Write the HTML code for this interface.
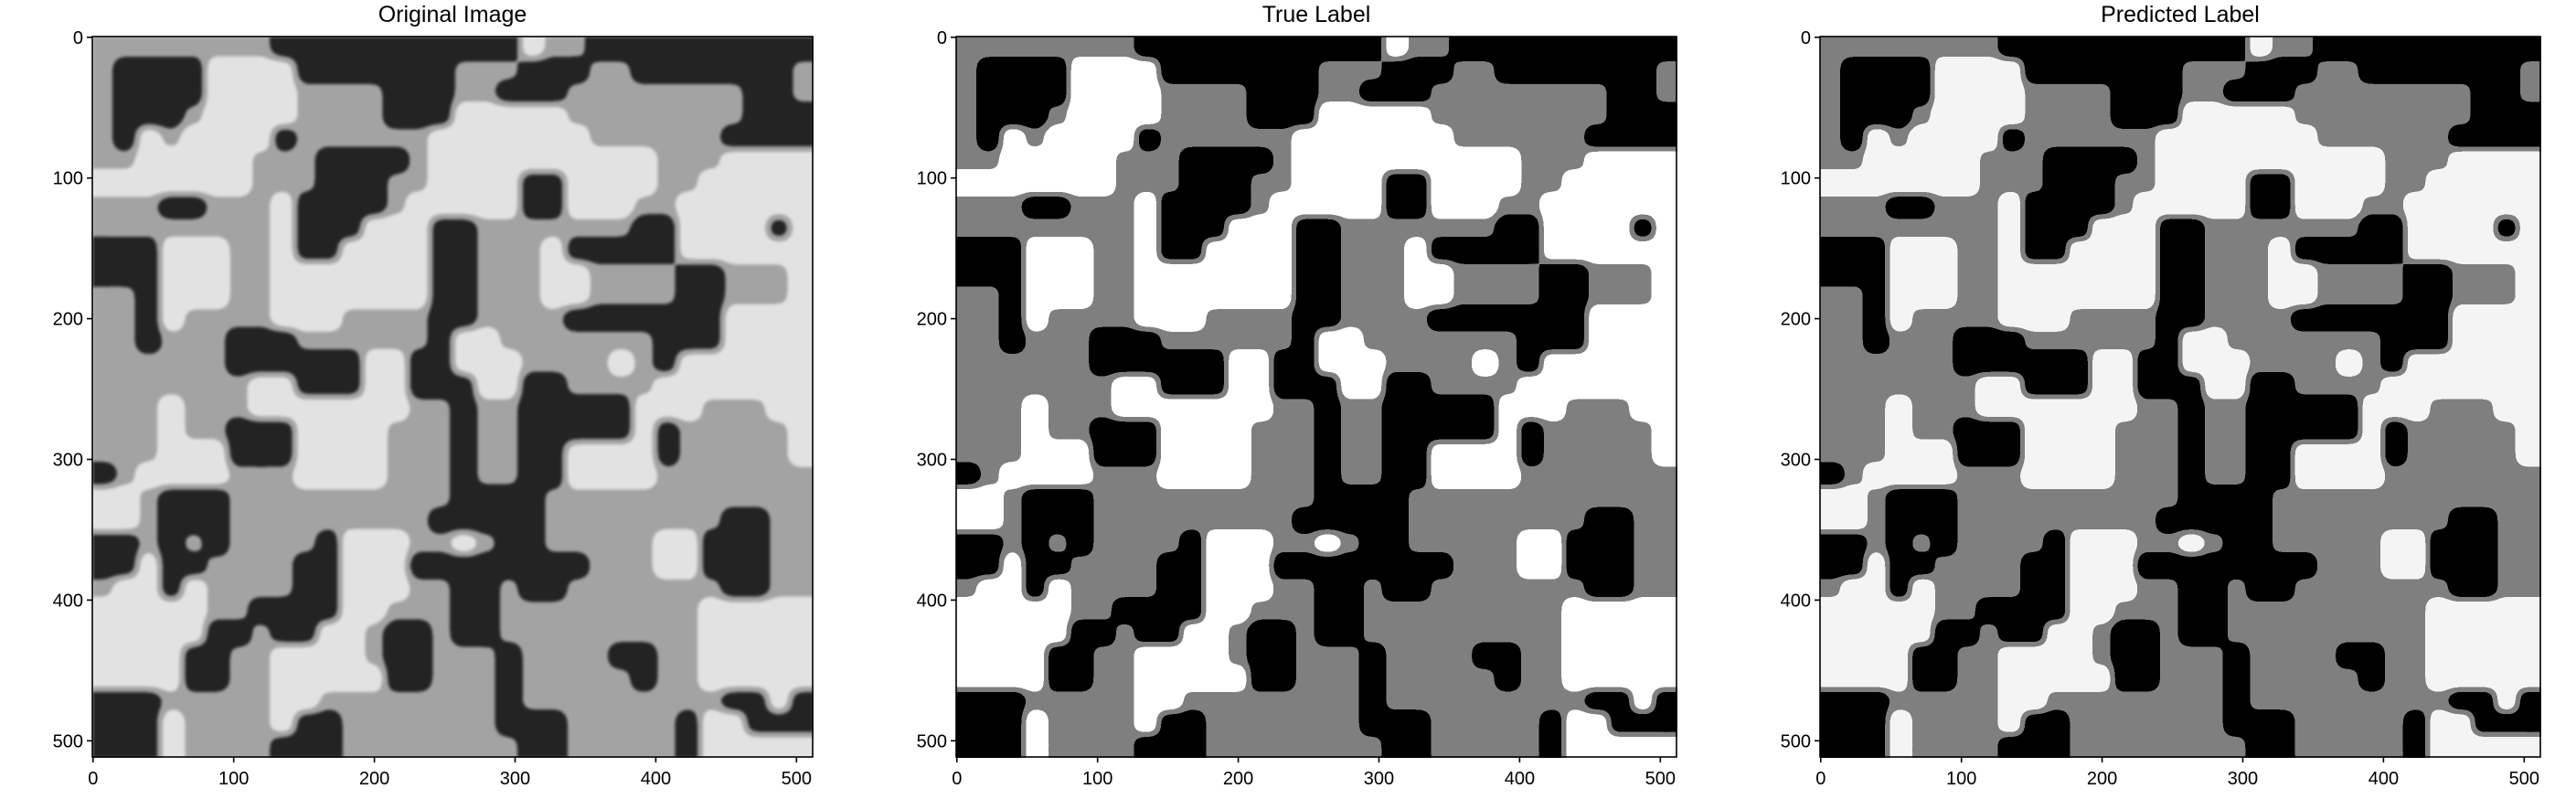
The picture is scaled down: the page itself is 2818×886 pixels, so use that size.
<!DOCTYPE html>
<html><head><meta charset="utf-8"><style>
html,body{margin:0;padding:0;background:#fff;}
svg{display:block;font-family:"Liberation Sans","DejaVu Sans",sans-serif;}
</style></head><body>
<svg id="fig" width="2818" height="886" viewBox="0 0 2818 886" xmlns="http://www.w3.org/2000/svg">
<defs>
<filter id="f0" x="0" y="0" width="1" height="1" color-interpolation-filters="sRGB">
<feGaussianBlur stdDeviation="7"/>
<feComponentTransfer>
<feFuncR type="discrete" tableValues="0.14 0.64 0.89"/>
<feFuncG type="discrete" tableValues="0.14 0.64 0.89"/>
<feFuncB type="discrete" tableValues="0.14 0.64 0.89"/>
<feFuncA type="discrete" tableValues="1"/>
</feComponentTransfer>
<feGaussianBlur stdDeviation="1.5"/>
</filter>
<filter id="f1" x="0" y="0" width="1" height="1" color-interpolation-filters="sRGB">
<feGaussianBlur stdDeviation="6"/>
<feComponentTransfer>
<feFuncR type="discrete" tableValues="0 0.5 1"/>
<feFuncG type="discrete" tableValues="0 0.5 1"/>
<feFuncB type="discrete" tableValues="0 0.5 1"/>
<feFuncA type="discrete" tableValues="1"/>
</feComponentTransfer>
</filter>
<filter id="f2" x="0" y="0" width="1" height="1" color-interpolation-filters="sRGB">
<feGaussianBlur stdDeviation="6"/>
<feComponentTransfer>
<feFuncR type="discrete" tableValues="0 0.5 0.96"/>
<feFuncG type="discrete" tableValues="0 0.5 0.96"/>
<feFuncB type="discrete" tableValues="0 0.5 0.96"/>
<feFuncA type="discrete" tableValues="1"/>
</feComponentTransfer>
</filter>
</defs>
</svg>
<script>
// Segmentation label grid (32x32 cells, 16 px each over a 512x512 image): 0 = black phase, 1 = gray phase, 2 = white phase
const labelRows = [
"11111111000000000002110000000000",
"10000222200000001110001100000001",
"10000222211110001100011111111001",
"10001222211110002222211111111000",
"10212222011111122222221111110000",
"11222221110000122222222221112222",
"22222221110001122220022221122222",
"11100111200001222220022211222222",
"11111111200022200111111100222202",
"00022211200222200111200000222222",
"00022211222222200111221111001112",
"11022211222222200111221111001112",
"11021111222111100111100000002222",
"11011100011111102211111110002222",
"11111100000022002221111210222222",
"11111112200022000220011112222222",
"11121112222222110110000022211122",
"11121100022221110110000020111112",
"11122200022221110110022220111112",
"01222211122221110110022221111111",
"22100011111111110000111111111111",
"22100011111111100000111111110011",
"00101011110222112100111112200011",
"00200111100222000000001112200011",
"12202111100222110010011111110011",
"22222110000221110011111111122222",
"22222001002210010011111111122222",
"22220011222210011101111001122222",
"22220011222220011101111101122222",
"00011111221111111101111111110020",
"00021111200111111100011111022000",
"00021111000111111110011111022222"
];
const panelTitles = ["Original Image", "True Label", "Predicted Label"];
const xTicks = [0, 100, 200, 300, 400, 500];
const yTicks = [0, 100, 200, 300, 400, 500];
const imgSize = 512;

const NS = "http://www.w3.org/2000/svg";
const svg = document.getElementById("fig");
const panelLeft = [101, 1046, 1991];
const top0 = 40, side = 788;
const baseGray = ["#000000","#808080","#ffffff"];
const slug = ["original-image","true-label","predicted-label"];

function mk(tag, attrs, parent){
  const e = document.createElementNS(NS, tag);
  for (const k in attrs) e.setAttribute(k, attrs[k]);
  (parent||svg).appendChild(e);
  return e;
}

panelTitles.forEach((title, p) => {
  const L = panelLeft[p];
  const sx = v => L + (v + 0.5) * side / imgSize;
  const sy = v => top0 + (v + 0.5) * side / imgSize;
  const g = mk("g", {filter: "url(#f" + p + ")"});
  
  
  const n = labelRows.length;
  const cell = imgSize / n;
  labelRows.forEach((row, i) => {
    for (let j = 0; j < row.length; j++) {
      const x0 = sx(j * cell - 0.5), y0 = sy(i * cell - 0.5);
      const x1 = sx((j + 1) * cell - 0.5), y1 = sy((i + 1) * cell - 0.5);
      const r = mk("rect", {x: x0.toFixed(2), y: y0.toFixed(2), width: (x1 - x0 + 0.6).toFixed(2), height: (y1 - y0 + 0.6).toFixed(2), fill: baseGray[+row[j]]}, g);
      
      
    }
  });
  const frame = mk("rect", {x: L, y: top0, width: side, height: side, fill: "none", stroke: "#000", "stroke-width": 1.6});
  
  
  const t = mk("text", {x: L + side / 2, y: 24, "font-size": 25, "text-anchor": "middle", fill: "#000"});
  t.textContent = title;
  
  
  xTicks.forEach(v => {
    const x = sx(v);
    const tk = mk("line", {x1: x, y1: top0 + side, x2: x, y2: top0 + side + 6, stroke: "#000", "stroke-width": 1.6});
    
    
    const lb = mk("text", {x: x, y: top0 + side + 30, "font-size": 20, "text-anchor": "middle", fill: "#000"});
    lb.textContent = v;
    
    
  });
  yTicks.forEach(v => {
    const y = sy(v);
    const tk = mk("line", {x1: L - 6, y1: y, x2: L, y2: y, stroke: "#000", "stroke-width": 1.6});
    
    
    const lb = mk("text", {x: L - 10, y: y + 7, "font-size": 20, "text-anchor": "end", fill: "#000"});
    lb.textContent = v;
    
    
  });
});
</script>
</body></html>
